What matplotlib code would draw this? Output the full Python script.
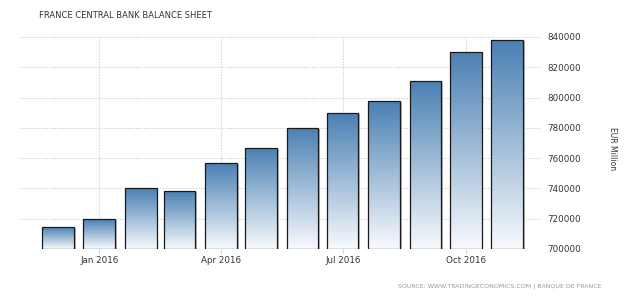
import datetime as dt

import matplotlib
matplotlib.use('Agg')
import matplotlib.pyplot as plt
import matplotlib.dates as mdates
import matplotlib.patheffects as pe
import numpy as np
from matplotlib.colors import LinearSegmentedColormap

# Monthly balance sheet, EUR million
months = ['2015-12', '2016-01', '2016-02', '2016-03', '2016-04', '2016-05',
          '2016-06', '2016-07', '2016-08', '2016-09', '2016-10', '2016-11']
balance = [714300, 719600, 740100, 738100, 756600, 766700,
           780000, 789600, 797700, 811100, 830100, 838000]
yticks = [700000, 720000, 740000, 760000, 780000, 800000, 820000, 840000]
xtick_months = ['2016-01', '2016-04', '2016-07', '2016-10']
xtick_labels = ['Jan 2016', 'Apr 2016', 'Jul 2016', 'Oct 2016']

TITLE = 'FRANCE CENTRAL BANK BALANCE SHEET'
SOURCE = 'SOURCE: WWW.TRADINGECONOMICS.COM | BANQUE DE FRANCE'


def to_date(s):
    return dt.datetime.strptime(s + '-01', '%Y-%m-%d')


def main():
    plt.rcParams['font.family'] = ['DejaVu Sans']
    fig = plt.figure(figsize=(6.4, 2.98), dpi=100)
    ax = fig.add_axes([19 / 640, 1 - 249 / 298, (542 - 19) / 640, (249 - 37) / 298])

    dates = [to_date(m) for m in months]
    x = mdates.date2num(dates)
    base = yticks[0]
    heights = [v - base for v in balance]
    width = 23.6

    cmap = LinearSegmentedColormap.from_list('fade', ['#f8fafd', '#4a80b3'])
    grad = np.linspace(0, 1, 256).reshape(-1, 1)

    fills = ax.bar(x, heights, width=width, bottom=base, color='white',
                   linewidth=0, zorder=2,
                   path_effects=[pe.SimplePatchShadow(offset=(1.4, -0.6),
                                                      shadow_rgbFace='#999999',
                                                      alpha=0.7),
                                 pe.Normal()])
    for rect in fills:
        x0, y0 = rect.get_x(), rect.get_y()
        im = ax.imshow(grad, cmap=cmap, aspect='auto', origin='lower',
                       extent=(x0, x0 + rect.get_width(), y0, y0 + rect.get_height()),
                       zorder=3, interpolation='bilinear')
        im.set_clip_path(rect)
    ax.bar(x, heights, width=width, bottom=base, facecolor='none',
           edgecolor='#1a1a1a', linewidth=0.9, zorder=4)

    ax.set_xlim(mdates.date2num(dt.datetime(2015, 11, 2)),
                mdates.date2num(dt.datetime(2016, 11, 27)))
    ax.set_ylim(yticks[0], yticks[-1])

    ax.set_xticks(mdates.date2num([to_date(m) for m in xtick_months]))
    ax.set_xticklabels(xtick_labels)
    ax.set_yticks(yticks)
    ax.set_yticklabels([str(v) for v in yticks])
    ax.yaxis.tick_right()

    ax.tick_params(axis='y', length=0, pad=4, labelsize=6.3, labelcolor='#333333')
    ax.tick_params(axis='x', length=3, width=0.6, color='#c8c8c8', pad=2,
                   labelsize=6.3, labelcolor='#333333')

    for s in ax.spines.values():
        s.set_visible(False)
    ax.grid(True, linestyle=(0, (1.3, 1.3)), color='#d2d2d2', linewidth=0.75, zorder=0)
    ax.set_axisbelow(True)

    fig.text(613 / 640, 1 - 149 / 298, 'EUR Million', rotation=270,
             ha='center', va='center', fontsize=5.5, color='#333333')
    fig.text(39 / 640, 1 - 16 / 298, TITLE, ha='left', va='center',
             fontsize=6.0, color='#333333')
    fig.text(602 / 640, 1 - 286 / 298, SOURCE, ha='right', va='center',
             fontsize=4.5, color='#999999')

    fig.savefig('out.png', dpi=100, facecolor='white')


if __name__ == '__main__':
    main()
